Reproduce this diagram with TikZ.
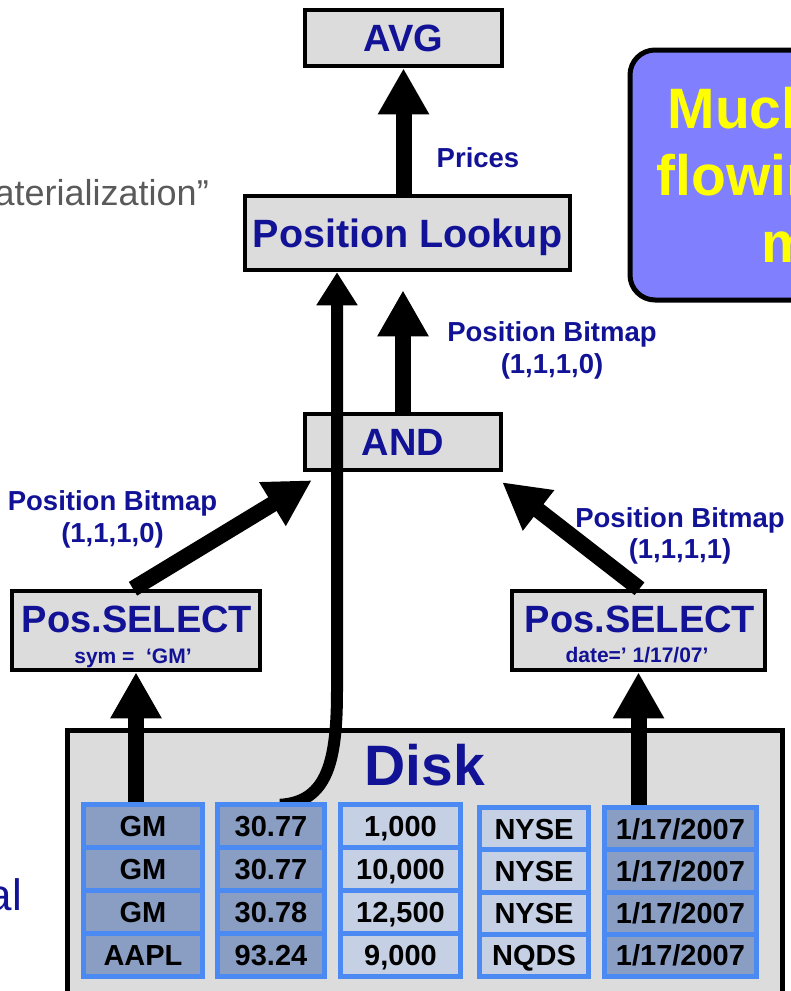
\documentclass[tikz,border=0pt]{standalone}
\usepackage{fontspec}
\setmainfont{Liberation Sans}
\usetikzlibrary{arrows.meta}

\definecolor{boxgray}{HTML}{DCDCDC}
\definecolor{navy}{RGB}{18,18,150}
\definecolor{notefill}{HTML}{8080FF}
\definecolor{noteyellow}{HTML}{FFFF00}
\definecolor{cellblue}{HTML}{4A8AF2}
\definecolor{celldark}{HTML}{8A9EC4}
\definecolor{celllight}{HTML}{C6D0E4}
\definecolor{greytext}{HTML}{5A5A5A}

\newcommand\setfs[1]{\fontsize{#1}{#1}\selectfont}

\pgfdeclarelayer{front}
\pgfsetlayers{main,front}

% one stored column of the table: index, centre x, width, top y, fill, four values
\newcommand\datacol[9]{%
  \pgfmathsetmacro\dcw{#3}%
  \pgfmathsetmacro\dch{979-#4}%
  \pgfmathsetmacro\dccy{(979+#4)/2}%
  \pgfmathsetmacro\dcrow{(\dch-25)/4}%
  \node[colframe, minimum width=\dcw pt, minimum height=\dch pt] (col#1) at (#2,\dccy) {};
  \foreach \rw/\tx in {1/{#6},2/{#7},3/{#8},4/{#9}} {
    \pgfmathsetmacro\rcy{#4+5+\dcrow/2+(\rw-1)*(\dcrow+5)}
    \node[cell, fill=#5, minimum width=\dcw pt-10pt, minimum height=\dcrow pt] (c#1\rw) at (#2,\rcy) {\tx};
  }%
}

\tikzset{
  opbox/.style={draw=black, line width=4.5pt, fill=boxgray, inner sep=0pt},
  opname/.style={font=\bfseries\setfs{38}, text=navy, text height=27pt, text depth=0pt},
  oparg/.style={font=\bfseries\setfs{21}, text=navy},
  flowlbl/.style={font=\bfseries\setfs{27.5}, text=navy},
  notetext/.style={font=\bfseries\setfs{57}, text=noteyellow},
  bigarrow/.style={line width=16pt, -{Triangle[length=46pt,width=48pt]}},
  thinarrow/.style={line width=12pt, -{Triangle[length=33pt,width=39pt]}},
  colframe/.style={fill=cellblue, inner sep=0pt},
  cell/.style={inner sep=0pt, font=\bfseries\setfs{29}, text=black, text height=21pt, text depth=0pt},
}

\begin{document}
\begin{tikzpicture}[x=1pt,y=-1pt]
\useasboundingbox (0,0) rectangle (791,991);
\clip (0,0) rectangle (791,991);

% disk container
\node[draw=black, line width=5pt, fill=boxgray, inner sep=0pt,
      minimum width=715pt, minimum height=300pt] (disk) at (424.5,880) {};
\node[font=\bfseries\setfs{57}, text=navy, anchor=base] (disklbl) at (425,785) {Disk};

% operators
\node[opbox, opname, minimum width=197pt, minimum height=56pt] (avg) at (403.5,38) {AVG};
\node[opbox, opname, font=\bfseries\setfs{39.5}, text height=28pt, minimum width=325pt, minimum height=74pt] (pl) at (407.5,233) {Position Lookup};
\node[opbox, opname, minimum width=196pt, minimum height=56pt] (and) at (403,442) {AND};
\node[opbox, minimum width=248pt, minimum height=79pt] (ps1) at (136,630.5) {};
\node[opbox, minimum width=253pt, minimum height=79pt] (ps2) at (638.5,630.5) {};
\node[opname, anchor=base] (ps1t) at (137,632) {Pos.SELECT};
\node[oparg, anchor=base] (ps1s) at (133,663) {sym =\ \ ‘GM’};
\node[opname, anchor=base] (ps2t) at (640,632) {Pos.SELECT};
\node[oparg, anchor=base] (ps2s) at (637,662) {date=’ 1/17/07’};

% callout
\node[draw=black, line width=5pt, fill=notefill, rounded corners=25pt,
      minimum width=500pt, minimum height=250pt] (note) at (880,175) {};
\node[notetext, anchor=base] (n1) at (872,128) {Much less data};
\node[notetext, anchor=base] (n2) at (872,195) {flowing through};
\node[notetext, anchor=base] (n3) at (872,262) {memory};

% side texts
\node[font=\setfs{36}, text=greytext, anchor=base east, inner sep=0pt] (gt) at (209,205) {aterialization”};
\node[font=\setfs{44}, text=navy, anchor=base east, inner sep=0pt] (bl) at (22,910) {al};

% stored columns
\begin{pgfonlayer}{front}
\datacol{1}{143}{124}{802}{celldark}{GM}{GM}{GM}{AAPL}
\datacol{2}{271}{112}{802}{celldark}{30.77}{30.77}{30.78}{93.24}
\datacol{3}{400.5}{125}{802}{celllight}{1,000}{10,000}{12,500}{9,000}
\datacol{4}{534}{114}{805}{celllight}{NYSE}{NYSE}{NYSE}{NQDS}
\datacol{5}{680.5}{157}{805}{celldark}{1/17/2007}{1/17/2007}{1/17/2007}{1/17/2007}
\end{pgfonlayer}

% flow labels
\node[flowlbl, anchor=base] (prices) at (478,167) {Prices};
\node[flowlbl, anchor=base] (pbu1) at (552,341) {Position Bitmap};
\node[flowlbl, anchor=base] (pbu2) at (552,373) {(1,1,1,0)};
\node[flowlbl, anchor=base] (pbl1) at (112.5,510) {Position Bitmap};
\node[flowlbl, anchor=base] (pbl2) at (112.5,542) {(1,1,1,0)};
\node[flowlbl, anchor=base] (pbr1) at (680,527) {Position Bitmap};
\node[flowlbl, anchor=base] (pbr2) at (680,558) {(1,1,1,1)};

% data flow
\draw[bigarrow] (pl.north -| avg.south) -- (avg.south);
\draw[bigarrow, shorten >=18pt] (and.north) -- (and.north |- pl.south);
\coordinate (ltip) at ([xshift=9pt,yshift=-8pt]and.south west);
\coordinate (rtip) at ([xshift=-1pt,yshift=-10pt]and.south east);
\draw[bigarrow] ([xshift=-3pt]ps1.north) -- (ltip);
\draw[bigarrow] ([xshift=1pt]ps2.north) -- (rtip);
\draw[bigarrow] (col1.north -| ps1.south) -- (ps1.south);
\draw[bigarrow] (col5.north -| ps2.south) -- (ps2.south);
\coordinate (bend) at (337,690);
\draw[thinarrow] ([xshift=9pt,yshift=-3pt]col2.north) .. controls (328,802) and (337,760) .. (bend) -- (bend |- pl.south);
\end{tikzpicture}
\end{document}
